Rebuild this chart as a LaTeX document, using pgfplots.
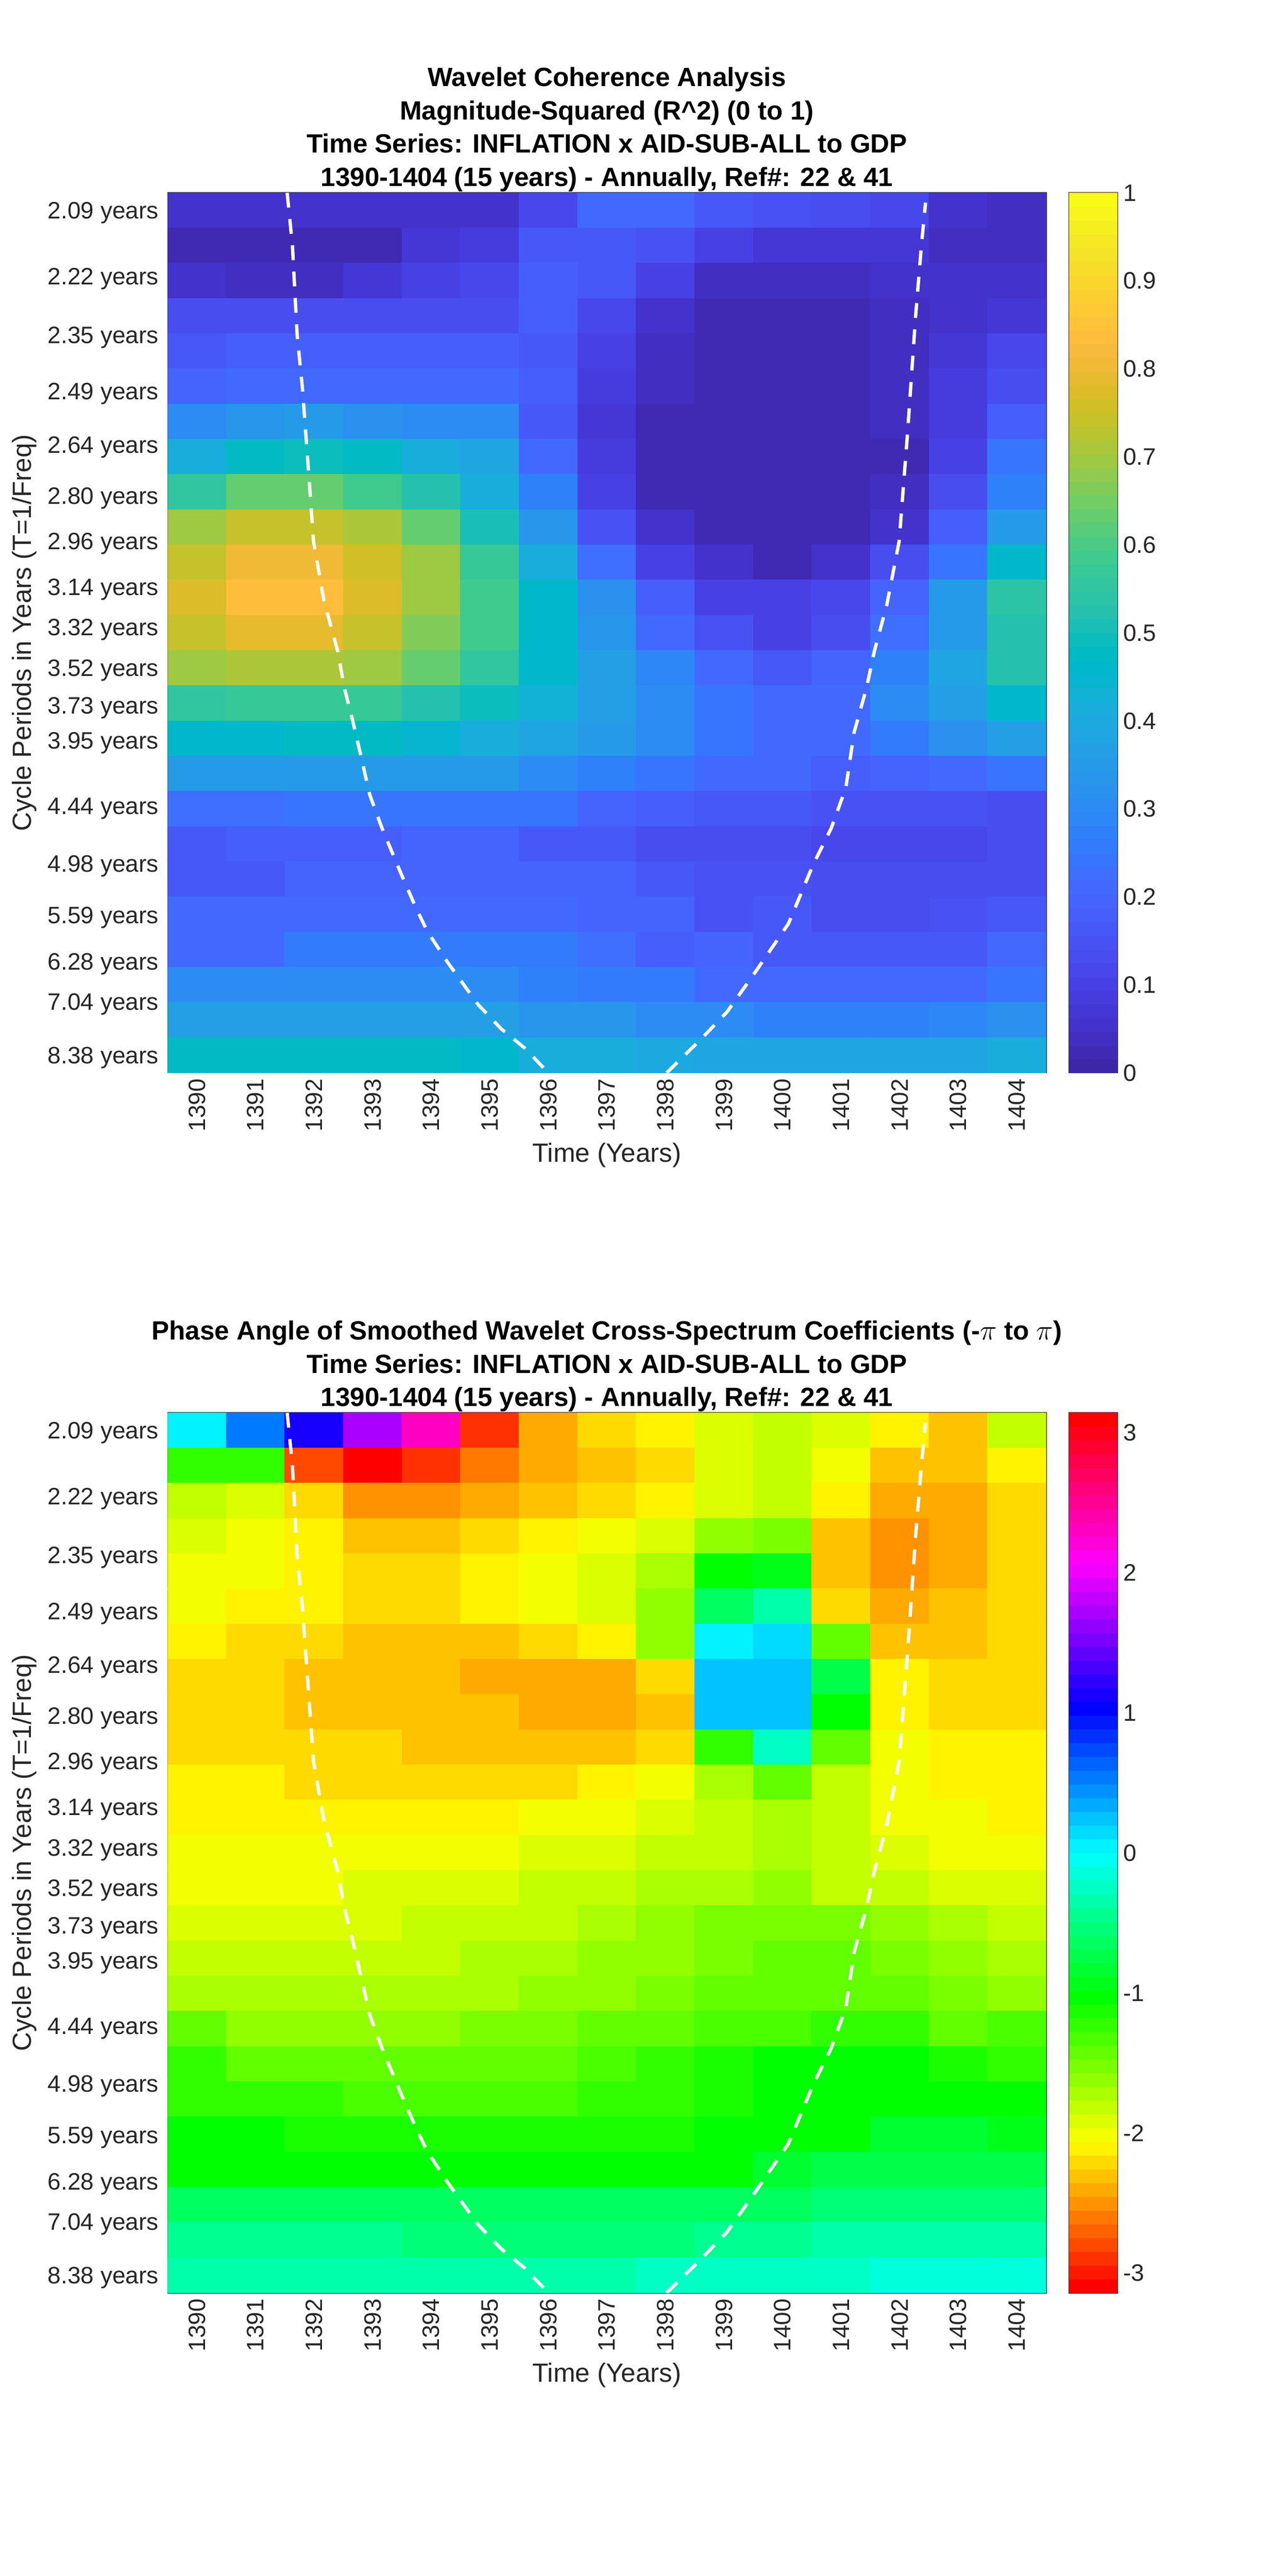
\documentclass[border=0pt]{standalone}
\usepackage{pgfplots}
\pgfplotsset{compat=1.18}
\usepackage{pgfplotstable}
\usepackage{fontspec}
\setmainfont{Liberation Sans}
\definecolor{axgray}{rgb}{0.15,0.15,0.15}

\pgfplotsset{
  colormap={parula64}{
    rgb=(0.2422,0.1504,0.6603) rgb=(0.2504,0.1650,0.7076) rgb=(0.2578,0.1818,0.7511) rgb=(0.2647,0.1978,0.7952)
    rgb=(0.2706,0.2147,0.8364) rgb=(0.2751,0.2342,0.8710) rgb=(0.2783,0.2559,0.8991) rgb=(0.2803,0.2782,0.9221)
    rgb=(0.2813,0.3006,0.9414) rgb=(0.2810,0.3228,0.9579) rgb=(0.2795,0.3447,0.9717) rgb=(0.2760,0.3667,0.9829)
    rgb=(0.2699,0.3892,0.9906) rgb=(0.2602,0.4123,0.9952) rgb=(0.2440,0.4358,0.9988) rgb=(0.2206,0.4603,0.9973)
    rgb=(0.1963,0.4847,0.9892) rgb=(0.1834,0.5074,0.9798) rgb=(0.1786,0.5289,0.9682) rgb=(0.1764,0.5499,0.9520)
    rgb=(0.1687,0.5703,0.9359) rgb=(0.1540,0.5902,0.9218) rgb=(0.1460,0.6091,0.9079) rgb=(0.1380,0.6276,0.8973)
    rgb=(0.1248,0.6459,0.8883) rgb=(0.1113,0.6635,0.8763) rgb=(0.0952,0.6798,0.8598) rgb=(0.0689,0.6948,0.8394)
    rgb=(0.0297,0.7082,0.8163) rgb=(0.0036,0.7203,0.7917) rgb=(0.0067,0.7312,0.7660) rgb=(0.0433,0.7411,0.7394)
    rgb=(0.0964,0.7500,0.7120) rgb=(0.1408,0.7584,0.6842) rgb=(0.1717,0.7670,0.6554) rgb=(0.1938,0.7758,0.6251)
    rgb=(0.2161,0.7843,0.5923) rgb=(0.2470,0.7918,0.5567) rgb=(0.2906,0.7973,0.5188) rgb=(0.3406,0.8008,0.4789)
    rgb=(0.3909,0.8029,0.4354) rgb=(0.4456,0.8024,0.3909) rgb=(0.5044,0.7993,0.3480) rgb=(0.5616,0.7942,0.3045)
    rgb=(0.6174,0.7876,0.2612) rgb=(0.6720,0.7793,0.2227) rgb=(0.7242,0.7698,0.1910) rgb=(0.7738,0.7598,0.1646)
    rgb=(0.8203,0.7498,0.1535) rgb=(0.8634,0.7406,0.1596) rgb=(0.9035,0.7330,0.1774) rgb=(0.9393,0.7288,0.2100)
    rgb=(0.9728,0.7298,0.2394) rgb=(0.9956,0.7434,0.2371) rgb=(0.9970,0.7659,0.2199) rgb=(0.9952,0.7893,0.2028)
    rgb=(0.9892,0.8136,0.1885) rgb=(0.9786,0.8386,0.1766) rgb=(0.9676,0.8639,0.1643) rgb=(0.9610,0.8890,0.1537)
    rgb=(0.9597,0.9135,0.1423) rgb=(0.9628,0.9373,0.1265) rgb=(0.9691,0.9606,0.1064) rgb=(0.9769,0.9839,0.0805)
  },
  colormap={hsvfull}{rgb255=(255,0,0) rgb255=(255,255,0) rgb255=(0,255,0) rgb255=(0,255,255) rgb255=(0,0,255) rgb255=(255,0,255) rgb255=(255,0,0)},
  colormap={hsv64}{samples of colormap={64 of hsvfull}},
  wavelet/.style={
    scale only axis, width=533pt, height=534pt,
    anchor=south west,
    xmin=1389.5, xmax=1404.5, ymin=-0.5, ymax=24.5, y dir=reverse,
    xtick={1390,...,1404},
    xticklabel style={rotate=90, anchor=east, font=\fontsize{14.4}{16}\selectfont, text=axgray},
    /pgf/number format/1000 sep={},
    /pgf/number format/assume math mode=true,
    ytick={0,1.873,3.538,5.136,6.661,8.108,9.398,10.692,11.846,12.990,14.058,15.057,16.026,16.923,17.756,18.556,19.318,20.020,20.706,21.333,21.925,22.482,23.017,23.527,24},
    yticklabels={2.09 years,2.22 years,2.35 years,2.49 years,2.64 years,2.80 years,2.96 years,3.14 years,3.32 years,3.52 years,3.73 years,3.95 years,,4.44 years,,4.98 years,,5.59 years,,6.28 years,,7.04 years,,,8.38 years},
    yticklabel style={font=\fontsize{14.4}{16}\selectfont, text=axgray, xshift=-2pt, yshift=-1.5pt},
    tick align=inside, major tick length=5.3pt,
    tick style={axgray, line width=0.6pt}, axis line style={axgray, line width=0.6pt},
    xlabel={Time (Years)}, ylabel={Cycle Periods in Years (T=1/Freq)},
    xlabel style={font=\fontsize{16}{18}\selectfont, text=axgray},
    ylabel style={font=\fontsize{16}{18}\selectfont, text=axgray},
    title style={font=\bfseries\fontsize{16}{20.3}\selectfont, align=center, yshift=-9pt},
    colormap access=piecewise constant,
  },
  cbar/.style={
    scale only axis, width=29.25pt, height=534pt,
    anchor=south west,
    xmin=0, xmax=1,
    xtick=\empty, ytick pos=right, yticklabel pos=right,
    tick align=inside, major tick length=4pt,
    tick style={axgray, line width=0.6pt}, axis line style={axgray, line width=0.6pt},
    yticklabel style={font=\fontsize{14.4}{16}\selectfont, text=axgray},
    /pgf/number format/assume math mode=true,
    colormap access=piecewise constant,
  },
  coi/.style={sharp plot, mesh/check=false, white, line width=2pt, dash pattern=on 9pt off 7pt, no markers, forget plot},
  cells/.style={matrix plot*, mesh/cols=15, point meta=explicit},
}

% one line per period row (2.09 ... 8.38 years), 1390 to 1404 across
\pgfplotstableread[row sep=\\]{
z\\
.05\\ .05\\ .05\\ .05\\ .05\\ .05\\ .11\\ .2\\ .2\\ .15\\ .14\\ .12\\ .11\\ .05\\ .03\\
.02\\ .02\\ .02\\ .02\\ .06\\ .08\\ .15\\ .16\\ .14\\ .1\\ .07\\ .06\\ .06\\ .03\\ .03\\
.05\\ .03\\ .03\\ .07\\ .1\\ .11\\ .17\\ .15\\ .09\\ .03\\ .03\\ .03\\ .04\\ .04\\ .04\\
.13\\ .13\\ .13\\ .13\\ .13\\ .13\\ .17\\ .11\\ .04\\ .02\\ .02\\ .02\\ .03\\ .05\\ .06\\
.15\\ .17\\ .17\\ .17\\ .17\\ .17\\ .16\\ .1\\ .03\\ .02\\ .02\\ .02\\ .03\\ .07\\ .11\\
.19\\ .21\\ .2\\ .2\\ .2\\ .2\\ .17\\ .08\\ .03\\ .02\\ .02\\ .02\\ .03\\ .08\\ .13\\
.3\\ .33\\ .34\\ .31\\ .29\\ .29\\ .15\\ .07\\ .01\\ .01\\ .01\\ .01\\ .03\\ .08\\ .17\\
.41\\ .47\\ .49\\ .47\\ .41\\ .37\\ .21\\ .08\\ .01\\ .01\\ .01\\ .01\\ .02\\ .1\\ .23\\
.55\\ .63\\ .63\\ .58\\ .51\\ .41\\ .27\\ .1\\ .01\\ .01\\ .01\\ .01\\ .03\\ .13\\ .27\\
.68\\ .74\\ .74\\ .71\\ .62\\ .5\\ .33\\ .14\\ .05\\ .02\\ .02\\ .02\\ .05\\ .17\\ .35\\
.74\\ .8\\ .8\\ .75\\ .68\\ .56\\ .41\\ .22\\ .1\\ .05\\ .02\\ .05\\ .12\\ .23\\ .45\\
.76\\ .82\\ .82\\ .76\\ .69\\ .58\\ .45\\ .31\\ .17\\ .1\\ .09\\ .11\\ .18\\ .34\\ .53\\
.73\\ .78\\ .78\\ .73\\ .66\\ .58\\ .46\\ .33\\ .21\\ .14\\ .1\\ .13\\ .22\\ .35\\ .52\\
.68\\ .7\\ .7\\ .68\\ .62\\ .54\\ .46\\ .36\\ .28\\ .2\\ .16\\ .18\\ .27\\ .37\\ .52\\
.55\\ .57\\ .57\\ .56\\ .52\\ .49\\ .42\\ .36\\ .29\\ .23\\ .21\\ .21\\ .29\\ .36\\ .46\\
.46\\ .46\\ .47\\ .47\\ .43\\ .41\\ .37\\ .34\\ .29\\ .24\\ .21\\ .21\\ .25\\ .31\\ .36\\
.35\\ .35\\ .35\\ .35\\ .35\\ .35\\ .29\\ .27\\ .23\\ .2\\ .2\\ .17\\ .19\\ .21\\ .24\\
.22\\ .22\\ .24\\ .24\\ .24\\ .24\\ .24\\ .19\\ .17\\ .16\\ .15\\ .14\\ .14\\ .14\\ .13\\
.15\\ .17\\ .17\\ .17\\ .19\\ .19\\ .16\\ .15\\ .13\\ .13\\ .12\\ .11\\ .11\\ .11\\ .12\\
.15\\ .16\\ .19\\ .19\\ .19\\ .19\\ .19\\ .19\\ .16\\ .14\\ .14\\ .13\\ .13\\ .13\\ .13\\
.2\\ .2\\ .2\\ .21\\ .21\\ .21\\ .21\\ .19\\ .18\\ .14\\ .15\\ .13\\ .13\\ .14\\ .15\\
.21\\ .21\\ .25\\ .25\\ .25\\ .25\\ .25\\ .22\\ .17\\ .18\\ .16\\ .16\\ .16\\ .16\\ .21\\
.29\\ .3\\ .3\\ .3\\ .3\\ .3\\ .26\\ .25\\ .25\\ .2\\ .21\\ .21\\ .21\\ .2\\ .23\\
.36\\ .36\\ .36\\ .36\\ .36\\ .36\\ .33\\ .33\\ .3\\ .29\\ .27\\ .27\\ .27\\ .28\\ .31\\
.47\\ .47\\ .47\\ .47\\ .47\\ .46\\ .41\\ .4\\ .39\\ .38\\ .38\\ .38\\ .38\\ .38\\ .41\\
}\coherence

\pgfplotstableread[row sep=\\]{
z\\
0\\ .49\\ 1.05\\ 1.71\\ 2.3\\ -2.93\\ -2.46\\ -2.27\\ -2.18\\ -1.99\\ -1.88\\ -1.95\\ -2.16\\ -2.35\\ -1.83\\
-1.26\\ -1.31\\ -2.83\\ -3.12\\ -2.93\\ -2.69\\ -2.46\\ -2.35\\ -2.28\\ -1.99\\ -1.88\\ -2.05\\ -2.35\\ -2.35\\ -2.17\\
-1.83\\ -1.96\\ -2.27\\ -2.56\\ -2.56\\ -2.48\\ -2.35\\ -2.27\\ -2.16\\ -1.97\\ -1.86\\ -2.16\\ -2.46\\ -2.48\\ -2.27\\
-1.97\\ -2.07\\ -2.16\\ -2.35\\ -2.35\\ -2.27\\ -2.16\\ -2.07\\ -1.97\\ -1.67\\ -1.57\\ -2.35\\ -2.55\\ -2.46\\ -2.27\\
-2.05\\ -2.05\\ -2.16\\ -2.27\\ -2.27\\ -2.12\\ -2.05\\ -1.95\\ -1.75\\ -1.05\\ -.95\\ -2.35\\ -2.55\\ -2.46\\ -2.27\\
-2.05\\ -2.16\\ -2.16\\ -2.27\\ -2.27\\ -2.14\\ -2.05\\ -1.95\\ -1.67\\ -.7\\ -.42\\ -2.27\\ -2.46\\ -2.35\\ -2.27\\
-2.16\\ -2.27\\ -2.27\\ -2.35\\ -2.35\\ -2.35\\ -2.27\\ -2.16\\ -1.67\\ 0\\ .12\\ -1.45\\ -2.35\\ -2.35\\ -2.27\\
-2.27\\ -2.27\\ -2.35\\ -2.35\\ -2.35\\ -2.46\\ -2.46\\ -2.46\\ -2.27\\ .22\\ .22\\ -.8\\ -2.16\\ -2.27\\ -2.27\\
-2.27\\ -2.27\\ -2.35\\ -2.35\\ -2.35\\ -2.35\\ -2.46\\ -2.46\\ -2.35\\ .22\\ .22\\ -1.05\\ -2.16\\ -2.27\\ -2.27\\
-2.27\\ -2.27\\ -2.27\\ -2.27\\ -2.35\\ -2.35\\ -2.35\\ -2.35\\ -2.27\\ -1.27\\ -.26\\ -1.45\\ -2.06\\ -2.16\\ -2.16\\
-2.16\\ -2.16\\ -2.27\\ -2.27\\ -2.27\\ -2.27\\ -2.27\\ -2.16\\ -2.06\\ -1.75\\ -1.45\\ -1.83\\ -2.06\\ -2.16\\ -2.16\\
-2.16\\ -2.16\\ -2.16\\ -2.16\\ -2.16\\ -2.16\\ -2.06\\ -2.06\\ -1.99\\ -1.88\\ -1.75\\ -1.84\\ -2.06\\ -2.06\\ -2.16\\
-2.06\\ -2.06\\ -2.06\\ -2.06\\ -2.06\\ -2.06\\ -1.97\\ -1.97\\ -1.86\\ -1.86\\ -1.75\\ -1.84\\ -1.99\\ -2.06\\ -2.06\\
-2.06\\ -2.06\\ -2.06\\ -1.96\\ -1.96\\ -1.96\\ -1.87\\ -1.87\\ -1.8\\ -1.8\\ -1.67\\ -1.82\\ -1.87\\ -1.95\\ -1.95\\
-1.95\\ -1.95\\ -1.95\\ -1.95\\ -1.87\\ -1.87\\ -1.87\\ -1.76\\ -1.64\\ -1.57\\ -1.57\\ -1.57\\ -1.68\\ -1.75\\ -1.87\\
-1.87\\ -1.87\\ -1.87\\ -1.87\\ -1.87\\ -1.76\\ -1.76\\ -1.68\\ -1.68\\ -1.57\\ -1.47\\ -1.47\\ -1.57\\ -1.68\\ -1.76\\
-1.75\\ -1.75\\ -1.75\\ -1.75\\ -1.75\\ -1.75\\ -1.68\\ -1.68\\ -1.57\\ -1.47\\ -1.47\\ -1.47\\ -1.45\\ -1.57\\ -1.68\\
-1.47\\ -1.64\\ -1.64\\ -1.64\\ -1.64\\ -1.57\\ -1.57\\ -1.47\\ -1.47\\ -1.4\\ -1.4\\ -1.31\\ -1.31\\ -1.45\\ -1.4\\
-1.26\\ -1.47\\ -1.47\\ -1.47\\ -1.47\\ -1.47\\ -1.47\\ -1.4\\ -1.26\\ -1.15\\ -1.05\\ -1.05\\ -1.05\\ -1.15\\ -1.26\\
-1.26\\ -1.26\\ -1.26\\ -1.36\\ -1.36\\ -1.36\\ -1.36\\ -1.26\\ -1.26\\ -1.15\\ -1.1\\ -1.1\\ -1.1\\ -1.05\\ -1.05\\
-1.05\\ -1.05\\ -1.15\\ -1.15\\ -1.15\\ -1.15\\ -1.15\\ -1.15\\ -1.15\\ -1.05\\ -1.1\\ -1.1\\ -.84\\ -.84\\ -.94\\
-1.1\\ -1.1\\ -1.1\\ -1.05\\ -1.05\\ -1.05\\ -1.05\\ -1.05\\ -1.05\\ -1.05\\ -.84\\ -.79\\ -.79\\ -.79\\ -.79\\
-.7\\ -.7\\ -.7\\ -.73\\ -.73\\ -.73\\ -.73\\ -.73\\ -.73\\ -.73\\ -.73\\ -.63\\ -.63\\ -.63\\ -.63\\
-.52\\ -.52\\ -.52\\ -.52\\ -.59\\ -.59\\ -.59\\ -.59\\ -.59\\ -.52\\ -.52\\ -.42\\ -.42\\ -.42\\ -.42\\
-.35\\ -.35\\ -.35\\ -.35\\ -.35\\ -.35\\ -.35\\ -.35\\ -.3\\ -.3\\ -.3\\ -.3\\ -.21\\ -.21\\ -.21\\
}\phase

% 64 colour steps, two cells wide, for the two colour bars
\pgfplotstableset{create on use/lev/.style={create col/set={0}}}
\pgfplotstablenew[columns={lev}]{128}{\cbtable}

\begin{document}
\begin{tikzpicture}[x=1pt,y=1pt]
\path[use as bounding box] (0,0) rectangle (781.25,1563);

\begin{axis}[wavelet, at={(101.75pt,912pt)},
  colormap name=parula64, point meta min=0, point meta max=1,
  title={Wavelet Coherence Analysis\\Magnitude-Squared (R\^{}2) (0 to 1)\\Time Series: INFLATION x AID-SUB-ALL to GDP\\1390-1404 (15 years) - Annually, Ref\#: 22 \& 41}]
\addplot[cells] table[meta expr={\thisrow{z}+0.008}, x index=0, y index=0, x expr={1390+mod(\coordindex,15)}, y expr={floor((\coordindex+0.5)/15)}] {\coherence};
\addplot[coi] coordinates {(1391.54,-0.5)(1391.63,1)(1391.71,3.53)(1391.8,5.04)(1391.89,7.06)(1391.99,9.4)(1392.17,11.1)(1392.4,12.5)(1392.52,13.58)(1392.66,14.5)(1392.8,15.5)(1392.95,16.6)(1393.16,17.55)(1393.5,18.9)(1393.72,19.74)(1393.93,20.47)(1394.28,21.36)(1394.8,22.56)(1395.19,23.24)(1395.6,23.8)(1396,24.5)};
\addplot[coi] coordinates {(1398.02,24.5)(1398.63,23.5)(1399.05,22.77)(1399.54,21.62)(1400.1,20.26)(1400.52,18.59)(1400.83,17.55)(1401.08,16.4)(1401.22,14.83)(1401.43,13.58)(1401.57,12.5)(1401.78,11.2)(1401.99,9.4)(1402.13,6.4)(1402.27,3.03)(1402.37,1)(1402.44,-0.22)};
\end{axis}

\begin{axis}[cbar, at={(648.75pt,912pt)},
  colormap name=parula64, point meta min=0, point meta max=1,
  ymin=0, ymax=1, ytick={0,0.1,0.2,0.3,0.4,0.5,0.6,0.7,0.8,0.9,1}]
\addplot[matrix plot*, mesh/cols=2, point meta=y] table[x index=0, y index=0, x expr={0.25+0.5*mod(\coordindex,2)}, y expr={(floor((\coordindex+0.5)/2)+0.5)*0.015625}] {\cbtable};
\end{axis}

\begin{axis}[wavelet, at={(101.75pt,171.75pt)},
  colormap name=hsv64, point meta min=-3.1416, point meta max=3.1416,
  title={Phase Angle of Smoothed Wavelet Cross-Spectrum Coefficients (-$\pi$ to $\pi$)\\Time Series: INFLATION x AID-SUB-ALL to GDP\\1390-1404 (15 years) - Annually, Ref\#: 22 \& 41}]
\addplot[cells] table[meta expr={\thisrow{z}+0.05}, x index=0, y index=0, x expr={1390+mod(\coordindex,15)}, y expr={floor((\coordindex+0.5)/15)}] {\phase};
\addplot[coi] coordinates {(1391.54,-0.5)(1391.63,1)(1391.71,3.53)(1391.8,5.04)(1391.89,7.06)(1391.99,9.4)(1392.17,11.1)(1392.4,12.5)(1392.52,13.58)(1392.66,14.5)(1392.8,15.5)(1392.95,16.6)(1393.16,17.55)(1393.5,18.9)(1393.72,19.74)(1393.93,20.47)(1394.28,21.36)(1394.8,22.56)(1395.19,23.24)(1395.6,23.8)(1396,24.5)};
\addplot[coi] coordinates {(1398.02,24.5)(1398.63,23.5)(1399.05,22.77)(1399.54,21.62)(1400.1,20.26)(1400.52,18.59)(1400.83,17.55)(1401.08,16.4)(1401.22,14.83)(1401.43,13.58)(1401.57,12.5)(1401.78,11.2)(1401.99,9.4)(1402.13,6.4)(1402.27,3.03)(1402.37,1)(1402.44,-0.22)};
\end{axis}

\begin{axis}[cbar, at={(648.75pt,171.75pt)},
  colormap name=hsv64, point meta min=-3.1416, point meta max=3.1416,
  ymin=-3.1416, ymax=3.1416, ytick={-3,-2,-1,0,1,2,3}]
\addplot[matrix plot*, mesh/cols=2, point meta=y] table[x index=0, y index=0, x expr={0.25+0.5*mod(\coordindex,2)}, y expr={-3.1416+(floor((\coordindex+0.5)/2)+0.5)*0.098175}] {\cbtable};
\end{axis}
\end{tikzpicture}
\end{document}
